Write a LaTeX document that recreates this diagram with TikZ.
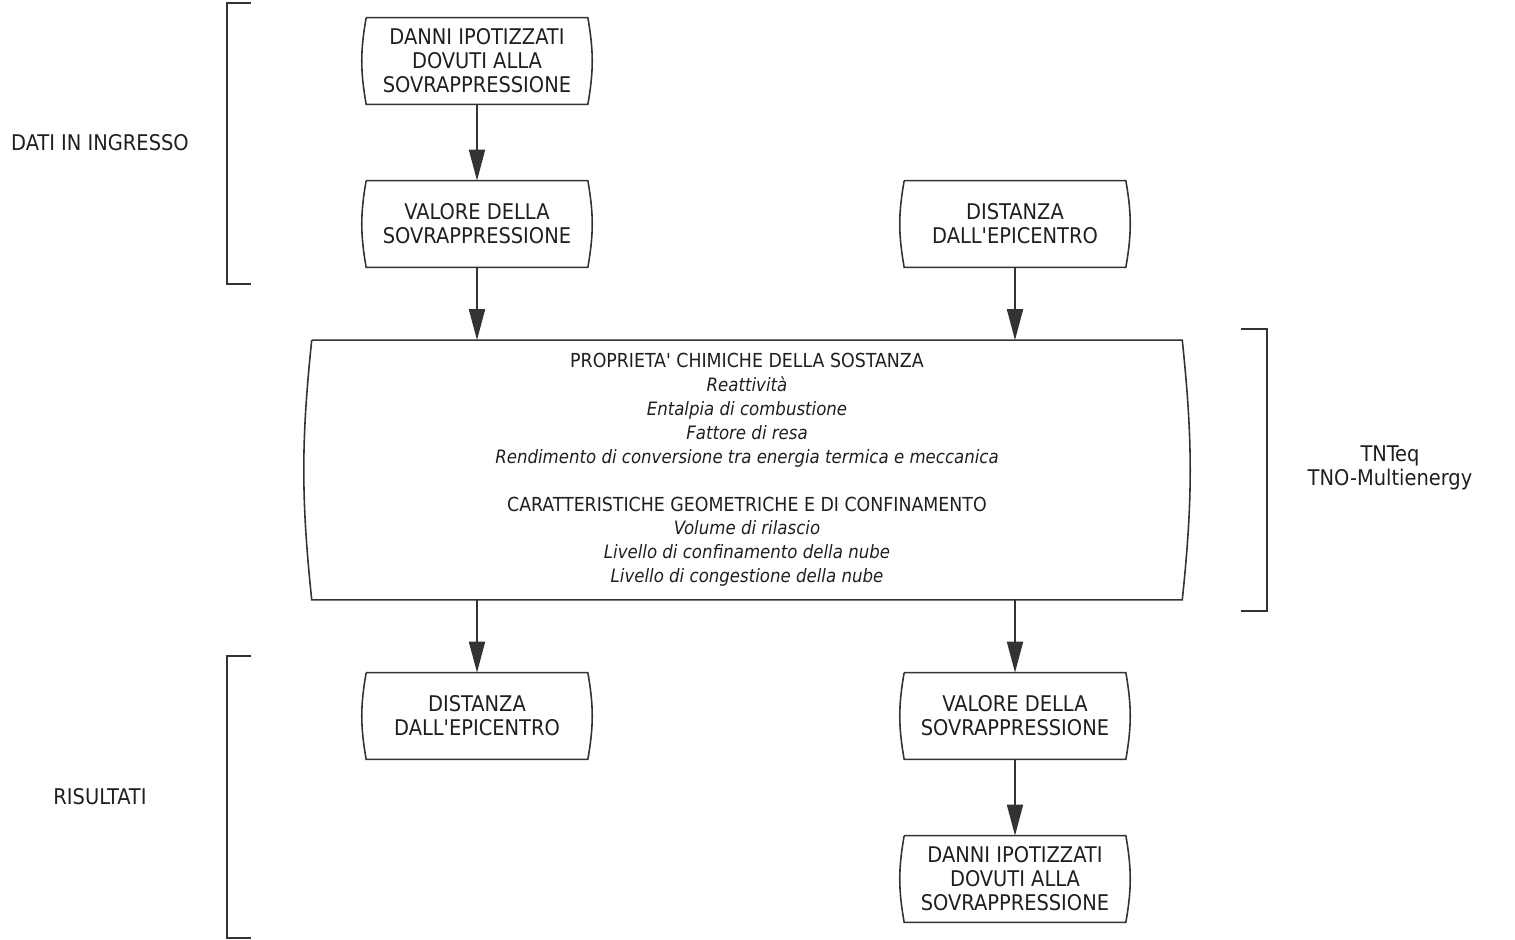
\documentclass[tikz,border=0pt]{standalone}
\usepackage{fontspec}
\setmainfont{DejaVu Sans Condensed}[Ligatures=TeXOff]
\usetikzlibrary{positioning,arrows.meta}
\definecolor{inkgray}{HTML}{333333}
\tikzset{%
  every stepbox/.style={
    draw=none,
    align=center,
    minimum width=4.42cm,
    minimum height=1.72cm,
    inner sep=0pt,
    font=\fontsize{12.3}{13.6}\selectfont
  },
  bigbox/.style={
    draw=none,
    align=center,
    minimum width=17.4cm,
    minimum height=5.18cm,
    inner sep=0pt,
    font=\fontsize{11}{13.6}\selectfont
  },
  outline/.style={
    draw=inkgray,
    line width=0.9pt
  },
  flow/.style={
    draw=inkgray,
    line width=1pt,
    -{Triangle[length=0.62cm,width=0.32cm]}
  },
  bracket/.style={
    draw=inkgray,
    line width=1.1pt
  },
  sidelabel/.style={
    align=center,
    font=\fontsize{12.3}{13.6}\selectfont
  },
}
\newcommand{\itline}[1]{{\fontsize{10.5}{13.6}\selectfont\itshape #1}}

\begin{document}
\begin{tikzpicture}[x=0.02cm, y=-0.02cm, text=black!88]

\useasboundingbox (0,0) rectangle (1515,940);

% input boxes
\node [every stepbox] (danni-in) at (477,61)
  {DANNI IPOTIZZATI\\DOVUTI ALLA\\SOVRAPPRESSIONE};
\node [every stepbox] (valore-in) at (477,224)
  {VALORE DELLA\\SOVRAPPRESSIONE};
\node [every stepbox] (distanza-in) at (1015,224)
  {DISTANZA\\DALL'EPICENTRO};

% model box
\node [bigbox] (model) at (747,470) {%
  PROPRIETA' CHIMICHE DELLA SOSTANZA\\
  \itline{Reattività}\\
  \itline{Entalpia di combustione}\\
  \itline{Fattore di resa}\\
  \itline{Rendimento di conversione tra energia termica e meccanica}\\[13.6pt]
  CARATTERISTICHE GEOMETRICHE E DI CONFINAMENTO\\
  \itline{Volume di rilascio}\\
  \itline{Livello di confinamento della nube}\\
  \itline{Livello di congestione della nube}};

% output boxes
\node [every stepbox] (distanza-out) at (477,716)
  {DISTANZA\\DALL'EPICENTRO};
\node [every stepbox] (valore-out) at (1015,716)
  {VALORE DELLA\\SOVRAPPRESSIONE};
\node [every stepbox] (danni-out) at (1015,879)
  {DANNI IPOTIZZATI\\DOVUTI ALLA\\SOVRAPPRESSIONE};

% box outlines with bulging sides
\foreach \n/\b in {danni-in/10, valore-in/10, distanza-in/10,
                   distanza-out/10, valore-out/10, danni-out/10, model/6}
  \draw [outline] (\n.north west) -- (\n.north east)
    to [bend left=\b] (\n.south east) -- (\n.south west)
    to [bend left=\b] (\n.north west);

% connectors
\draw [flow] (danni-in.south) -- (valore-in.north);
\foreach \s in {valore-in, distanza-in}
  \draw [flow] (\s.south) -- (\s.south |- model.north);
\foreach \t in {distanza-out, valore-out}
  \draw [flow] (\t.north |- model.south) -- (\t.north);
\draw [flow] (valore-out.south) -- (danni-out.north);

% brackets
\draw [bracket] (251,3) -- (227,3) -- (227,284) -- (251,284);
\draw [bracket] (251,656) -- (227,656) -- (227,938) -- (251,938);
\draw [bracket] (1241,329) -- (1267,329) -- (1267,611) -- (1241,611);

% side labels
\node [sidelabel] (ingresso) at (100,143) {DATI IN INGRESSO};
\node [sidelabel] (risultati) at (100,797) {RISULTATI};
\node [sidelabel] (metodi) at (1390,468) {TNTeq\\TNO-Multienergy};

\end{tikzpicture}
\end{document}
